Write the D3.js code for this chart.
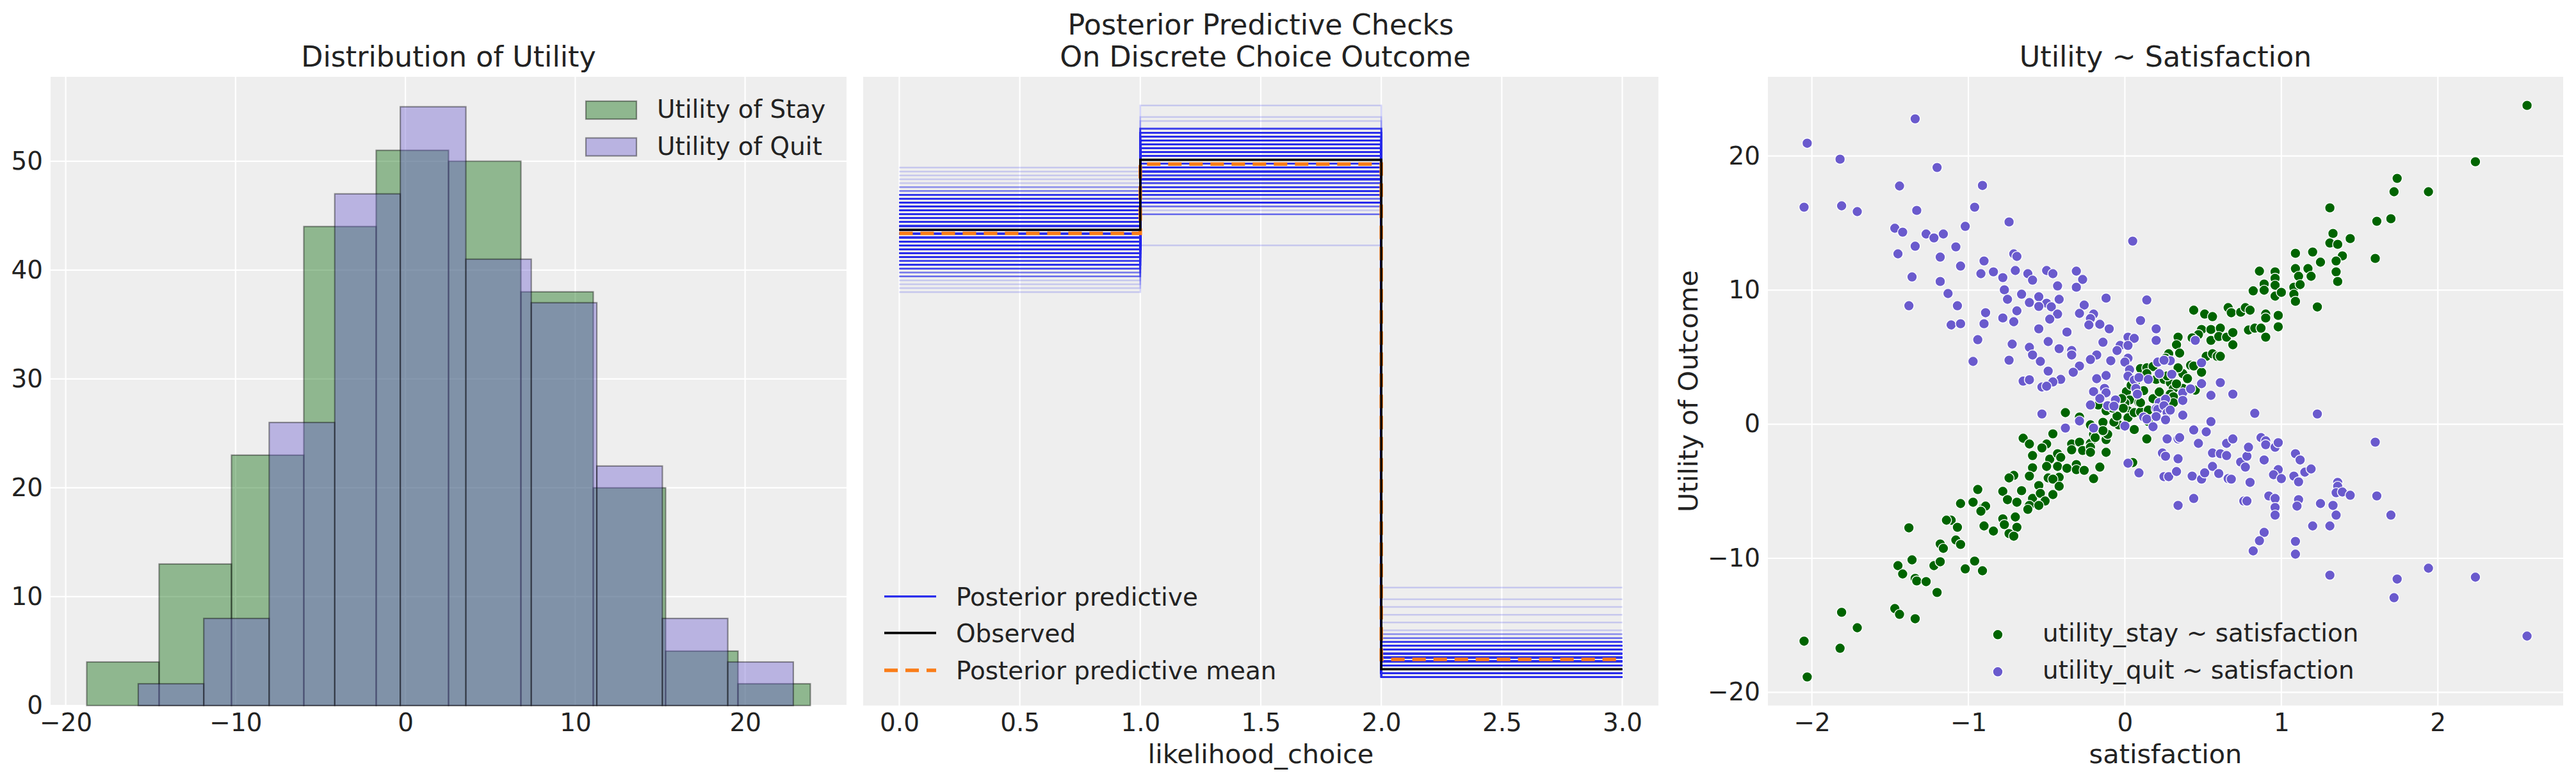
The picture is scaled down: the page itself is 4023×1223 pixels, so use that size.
<!DOCTYPE html>
<html>
<head>
<meta charset="utf-8">
<script src="https://cdn.jsdelivr.net/npm/d3@7"></script>
<style>
  body { margin: 0; background: #fff; }
  text { font-family: "DejaVu Sans", sans-serif; fill: #222; }
</style>
</head>
<body>
<svg id="fig" width="4023" height="1223"></svg>
<script>
// ---------------- data: panel 1 (histograms) ----------------
const stayEdges = [-18.76, -14.50, -10.24, -5.98, -1.72, 2.54, 6.80, 11.06, 15.32, 19.58, 23.84];
const stayCounts = [4, 13, 23, 44, 51, 50, 38, 20, 5, 2];
const quitEdges = [-15.73, -11.87, -8.02, -4.16, -0.30, 3.56, 7.41, 11.27, 15.13, 18.98, 22.84];
const quitCounts = [2, 8, 26, 47, 55, 41, 37, 22, 8, 4];
const histXTicks = [-20, -10, 0, 10, 20];
const histYTicks = [0, 10, 20, 30, 40, 50];

// ---------------- data: panel 2 (ppc, counts per choice out of 250) ----------------
const choiceEdges = [0, 1, 2, 3];
const observedCounts = [115, 133, 2];
const ppcMeanCounts = [114.1, 131.9, 4.5];
// [count choice 0, count choice 1, count choice 2, number of draws giving that histogram]
const ppcSamples = [
  [99,143,8,1],[100,147,3,1],[101,140,9,1],[102,144,4,1],[103,137,10,2],[103,141,6,3],[104,123,23,1],[104,140,6,3],
  [105,141,4,8],[105,125,20,1],[106,136,8,8],[106,137,7,8],[106,139,5,8],[107,138,5,8],[107,125,18,1],[107,127,16,1],
  [108,135,7,8],[108,138,4,8],[108,140,2,8],[109,136,5,8],[109,138,3,8],[109,129,12,1],[109,140,1,8],[110,138,2,8],
  [110,134,6,8],[110,136,4,8],[110,139,1,8],[111,136,3,8],[111,129,10,3],[111,139,0,8],[111,137,2,8],[112,133,5,8],
  [112,137,1,8],[112,130,8,8],[112,135,3,8],[112,136,2,8],[113,133,4,8],[113,137,0,8],[113,136,1,8],[113,131,6,8],
  [113,135,2,8],[114,133,3,8],[114,129,7,8],[114,135,1,8],[114,132,4,8],[114,136,0,8],[114,134,2,8],[115,130,5,8],
  [115,132,3,8],[115,126,9,8],[115,134,1,8],[115,133,2,8],[116,130,4,8],[116,134,0,8],[116,128,6,8],[116,133,1,8],
  [116,131,3,8],[117,131,2,8],[117,128,5,8],[117,122,11,3],[117,133,0,8],[118,131,1,8],[118,128,4,8],[118,130,2,8],
  [118,124,8,8],[119,128,3,8],[119,131,0,8],[119,125,6,8],[119,130,1,8],[120,128,2,8],[120,125,5,8],[120,127,3,8],
  [121,125,4,8],[121,128,1,8],[121,122,7,8],[122,126,2,8],[122,128,0,8],[122,119,9,4],[123,124,3,8],[123,122,5,8],
  [124,125,1,8],[124,122,4,8],[125,111,14,1],[125,123,2,3],[126,121,3,3],[127,123,0,1],[128,121,1,1],[129,121,0,1],
  [130,120,0,1],[131,119,0,1]
];
const ppcXTicks = [0, 0.5, 1, 1.5, 2, 2.5, 3];

// ---------------- data: panel 3 (satisfaction, utility) ----------------
const stayPoints = [
  [1.09,12.74],[0.86,11.41],[0.96,11.36],[0.96,10.88],[0.89,10.45],[0.96,10.36],[0.82,9.94],[0.89,9.99],
  [0.96,9.55],[1.00,9.83],[1.09,11.60],[1.11,11.03],[1.08,10.21],[1.08,9.69],[1.09,9.16],[1.12,10.41],
  [0.44,8.50],[0.51,8.21],[0.56,8.02],[0.66,8.69],[0.68,8.31],[0.74,8.35],[0.77,8.69],[0.80,8.50],
  [0.90,8.21],[0.90,7.92],[0.98,8.11],[0.98,7.26],[0.79,7.02],[0.83,7.16],[0.87,7.16],[0.90,6.49],
  [0.49,7.06],[0.55,7.06],[0.61,7.16],[0.47,6.68],[0.43,6.44],[0.55,6.25],[0.60,6.54],[0.65,6.49],
  [0.69,6.83],[0.69,5.92],[0.34,6.49],[0.33,5.92],[0.35,5.30],[0.28,5.25],[0.52,5.06],[0.56,5.25],
  [0.59,5.06],[0.61,5.06],[0.42,4.39],[0.44,4.34],[0.49,3.87],[0.37,3.77],[0.34,4.20],[0.26,4.92],
  [0.10,4.15],[0.14,4.20],[0.18,4.30],[0.14,3.77],[0.20,3.34],[0.25,3.34],[0.29,3.10],
  [2.57,23.77],[2.24,19.57],[1.74,18.33],[1.72,17.33],[1.94,17.33],[1.31,16.13],[1.61,15.13],[1.70,15.32],
  [1.33,14.22],[1.44,13.84],[1.31,13.51],[1.36,13.41],[1.20,12.84],[1.39,12.55],[1.25,12.08],[1.35,12.17],
  [1.60,12.36],[1.17,11.60],[1.19,11.03],[1.35,11.36],[1.36,10.64],[1.23,8.74],
  [-0.65,-1.05],[-0.61,-1.48],[-0.59,-2.34],[-0.59,-3.25],[-0.61,-3.87],[-0.71,-3.82],[-0.74,-4.01],[-0.94,-4.87],
  [-0.78,-5.01],[-0.66,-4.96],[-0.75,-5.63],[-0.69,-5.82],[-0.59,-5.54],[-0.61,-6.06],[-0.62,-6.35],[-1.05,-5.92],
  [-0.97,-5.82],[-0.90,-6.16],[-0.89,-6.11],[-0.92,-6.49],[-1.11,-7.16],[-1.14,-7.16],[-1.07,-7.69],[-0.90,-7.59],
  [-0.84,-7.97],[-0.78,-7.06],[-0.70,-6.92],[-0.77,-7.49],[-0.69,-7.69],[-0.74,-8.16],[-0.71,-8.35],[-1.38,-7.73],
  [-1.18,-8.93],[-1.16,-9.26],[-1.08,-8.64],[-1.05,-8.97],[-1.36,-10.12],[-1.45,-10.55],[-1.42,-11.17],[-1.34,-11.50],
  [-1.33,-11.69],[-1.27,-11.74],[-1.22,-10.55],[-1.18,-10.26],[-1.20,-12.55],[-1.02,-10.79],[-0.96,-10.21],[-0.91,-10.93],
  [-1.47,-13.75],[-1.44,-14.18],[-1.34,-14.51],[-1.81,-14.03],[-1.71,-15.18],[-2.05,-16.18],[-1.82,-16.71],[-2.03,-18.85],
  [-0.38,0.86],[-0.46,-0.72],[-0.50,-1.48],[-0.53,-1.77],[-0.48,-2.61],[-0.43,-2.20],[-0.41,-2.48],[-0.50,-3.15],
  [-0.43,-3.15],[-0.37,-3.29],[-0.31,-3.01],[-0.31,-3.39],[-0.26,-3.44],[-0.16,-3.20],[-0.20,-4.06],[-0.49,-4.01],
  [-0.42,-3.96],[-0.46,-4.10],[-0.55,-4.58],[-0.42,-4.63],[-0.54,-5.16],[-0.46,-5.25],[-0.51,-5.73],[-0.55,-6.06],
  [-0.34,-1.48],[-0.34,-1.91],[-0.29,-1.34],[-0.27,-1.96],[-0.22,-1.43],[-0.22,-1.72],[-0.22,-2.10],[-0.12,-2.10],
  [-0.20,-0.76],[-0.19,-1.00],[-0.12,-1.15],[-0.11,-0.76],[-0.14,0.14],[-0.14,-0.48],[-0.22,-0.05],[-0.29,0.53],
  [-0.17,1.43],[-0.12,1.00],[-0.05,0.00],[-0.04,-0.05],[0.14,-1.10],[0.05,-2.86],[0.01,2.43],[0.03,1.81],
  [0.00,1.58],[0.09,1.62],[0.02,1.00],[0.02,0.48],[0.06,0.86],[0.10,0.91],[0.15,1.05],[0.31,2.63],
  [0.29,2.24],[0.31,2.05],[0.37,2.67],[0.45,2.53],[-0.02,1.91],[-0.01,1.19],[-0.07,0.16],
  [-0.05,0.60],[0.04,2.90],[0.07,3.20],[0.12,2.50],[0.18,1.90],[0.22,2.40],[0.27,3.60],[0.33,3.00],
  [0.10,1.60],[-0.08,1.20],[0.15,0.20],[0.06,-0.40],[0.26,1.40],[0.31,1.60],[0.40,3.40]
];
const quitPoints = [
  [-1.34,22.77],[-2.03,20.95],[-1.82,19.76],[-1.20,19.14],[-1.44,17.76],[-0.91,17.80],[-2.05,16.18],[-1.81,16.28],
  [-1.71,15.85],[-1.33,15.94],[-0.96,16.18],[-0.74,15.08],[-1.47,14.61],[-1.42,14.32],[-1.27,14.18],[-1.22,13.89],
  [-1.16,14.18],[-1.02,14.75],[-1.34,13.27],[-1.08,13.22],[-1.45,12.70],[-1.18,12.46],[-1.05,11.79],[-0.90,12.17],
  [-0.71,12.70],[-0.69,12.51],[-0.92,11.22],[-0.84,11.36],[-0.78,10.93],[-0.70,11.46],[-0.62,11.22],[-0.59,10.74],
  [-1.36,10.98],[-1.18,10.64],[-1.13,9.74],[-0.77,10.02],[-0.66,9.69],[-0.75,9.31],[-0.61,9.07],[-1.38,8.83],
  [-1.07,8.83],[-0.89,8.31],[-0.69,8.45],[-0.78,7.92],[-0.71,7.64],[-1.11,7.40],[-1.05,7.49],[-0.90,7.49],
  [-0.94,6.30],[-0.72,5.97],[-0.61,5.73],[-0.59,5.16],[-0.97,4.68],[-0.74,4.77],[-0.65,3.21],[-0.61,3.31],
  [0.05,13.65],[-0.50,11.46],[-0.46,11.22],[-0.31,11.41],[-0.27,10.79],[-0.43,10.31],[-0.31,10.21],[-0.55,9.50],
  [-0.42,9.31],[-0.12,9.40],[0.14,9.26],[-0.50,9.02],[-0.47,8.75],[-0.55,8.78],[-0.43,8.21],[-0.48,7.83],
  [-0.26,8.88],[-0.29,8.26],[-0.20,8.21],[-0.22,7.88],[-0.23,7.40],[-0.16,7.45],[-0.10,7.11],[0.10,7.73],
  [0.20,7.11],[0.20,6.25],[-0.55,7.11],[-0.37,6.87],[-0.49,6.16],[0.02,6.49],[0.06,6.40],[-0.14,6.11],
  [-0.42,5.63],[-0.34,5.49],[-0.34,5.16],[-0.03,5.87],[0.02,5.87],[-0.05,5.49],[-0.18,5.16],[-0.22,4.82],
  [-0.09,4.73],[0.02,4.92],[0.00,4.63],[-0.54,4.68],[-0.29,4.34],[-0.49,3.96],[-0.33,3.87],[0.03,4.06],
  [-0.18,3.39],[-0.12,3.63],[-0.41,3.34],[0.02,3.58],[0.06,3.29],[0.09,3.48],[0.15,3.34],[0.21,4.63],
  [0.29,4.73],[0.22,3.77],[0.30,3.72],[0.45,6.25],[0.49,4.58],[0.49,3.02],[0.61,3.10],[-0.46,3.15],[0.25,4.77],
  [-0.53,2.77],[-0.50,2.83],[-0.20,2.43],[-0.13,2.67],[-0.12,2.34],[-0.16,1.91],[-0.22,1.43],[-0.11,1.38],
  [-0.06,1.81],[-0.07,1.34],[-0.53,0.76],[-0.38,-0.29],[-0.29,0.24],[-0.20,-0.29],[0.00,-0.14],[0.07,2.67],
  [0.08,2.24],[0.12,0.53],[0.14,0.38],[0.18,-0.19],[0.22,1.62],[0.26,1.86],[0.20,1.15],[0.21,1.10],
  [0.25,1.38],[0.27,0.86],[0.29,1.05],[0.20,0.57],[0.26,0.33],[0.37,2.34],[0.37,1.77],[0.37,0.67],
  [0.42,2.63],[0.55,2.15],[0.69,2.24],[0.83,0.81],[0.55,0.19],[0.44,-0.43],[0.52,-0.57],[0.27,-1.10],
  [0.34,-1.10],[0.35,-1.00],[0.47,-1.43],[0.24,-2.15],[0.26,-2.39],[0.34,-2.58],[0.02,-2.91],[0.09,-3.63],
  [0.25,-3.91],[0.28,-3.91],[0.33,-3.53],[0.43,-3.87],[0.49,-4.10],[0.51,-3.63],[0.56,-2.15],[0.61,-2.20],
  [0.65,-2.34],[0.65,-1.43],[0.69,-1.10],[0.56,-3.15],[0.60,-3.68],[0.66,-4.06],[0.68,-4.10],[0.74,-2.82],
  [0.77,-3.20],[0.78,-2.39],[0.79,-1.72],[0.80,-4.34],[0.87,-1.00],[0.90,-1.24],[0.90,-1.53],[0.96,-1.72],
  [0.98,-1.38],[0.89,-2.67],[0.98,-3.39],[0.95,-3.77],[1.00,-4.06],[1.09,-2.20],[1.12,-2.67],[1.08,-3.87],
  [1.11,-4.30],[1.15,-3.58],[0.34,-6.06],[0.44,-5.54],[0.76,-5.73],[0.78,-5.73],[0.92,-5.35],[0.96,-5.54],
  [0.96,-6.21],[0.96,-6.78],[1.11,-5.63],[1.10,-6.11],[0.89,-8.07],[0.86,-8.69],[0.82,-9.45],[1.09,-8.74],[1.09,-9.69],
  [1.23,0.76],[1.60,-1.34],[1.19,-3.34],[1.36,-4.34],[1.36,-4.63],[1.35,-5.11],[1.39,-5.06],[1.44,-5.30],
  [1.61,-5.35],[1.25,-5.92],[1.33,-6.06],[1.35,-6.78],[1.70,-6.78],[1.20,-7.59],[1.31,-7.59],[1.31,-11.26],
  [1.74,-11.55],[1.72,-12.94],[1.94,-10.74],[2.24,-11.41],[2.57,-15.80]
];
const scatXTicks = [-2, -1, 0, 1, 2];
const scatYTicks = [-20, -10, 0, 10, 20];

// ---------------- drawing ----------------
const svg = d3.select("#fig");
const TICK = 38.9, TITLE = 44.4, LABEL = 41.5;
const BG = "#eeeeee";
const STAY = "#006400", QUIT = "#6a5acd";
const C_BLUE = "#2a2eec", C_ORANGE = "#fa7c17";
const DOT_R = 7.9, DOT_EDGE = 1.4;

function pad(lo, hi) {
  const m = (hi - lo) * 0.05;
  return [lo - m, hi + m];
}

function axesBg(b) {
  const g = svg.append("g");
  g.append("rect").attr("x", b.l).attr("y", b.t)
    .attr("width", b.r - b.l).attr("height", b.b - b.t).attr("fill", BG);
  return g;
}

function vgrid(g, x, ticks, b) {
  g.selectAll(null).data(ticks).enter().append("line")
    .attr("x1", d => x(d)).attr("x2", d => x(d)).attr("y1", b.t).attr("y2", b.b)
    .attr("stroke", "#fff").attr("stroke-width", 2.2);
}
function hgrid(g, y, ticks, b) {
  g.selectAll(null).data(ticks).enter().append("line")
    .attr("y1", d => y(d)).attr("y2", d => y(d)).attr("x1", b.l).attr("x2", b.r)
    .attr("stroke", "#fff").attr("stroke-width", 2.2);
}

function styleAxis(a) {
  a.select(".domain").remove();
  a.selectAll("text").attr("font-size", TICK).attr("font-family", "DejaVu Sans, sans-serif").attr("fill", "#222");
}

function xAxis(g, x, ticks, b, fmt) {
  g.append("g").attr("transform", `translate(0,${b.b})`)
    .call(d3.axisBottom(x).tickValues(ticks).tickSize(0).tickPadding(12).tickFormat(fmt))
    .call(styleAxis);
}
function yAxis(g, y, ticks, b, fmt) {
  g.append("g").attr("transform", `translate(${b.l},0)`)
    .call(d3.axisLeft(y).tickValues(ticks).tickSize(0).tickPadding(12).tickFormat(fmt))
    .call(styleAxis);
}

function title(lines, b, baselines) {
  const cx = (b.l + b.r) / 2;
  lines.forEach((s, i) => {
    svg.append("text").attr("x", cx).attr("y", baselines[i])
      .attr("text-anchor", "middle").attr("font-size", TITLE)
      .style("white-space", "pre").text(s);
  });
}

// ---- panel 1: Distribution of Utility ----
const b1 = { l: 79, r: 1322, t: 120, b: 1102 };
const g1 = axesBg(b1);
const x1 = d3.scaleLinear()
  .domain(pad(Math.min(stayEdges[0], quitEdges[0]), Math.max(stayEdges[10], quitEdges[10])))
  .range([b1.l, b1.r]);
const y1 = d3.scaleLinear()
  .domain([0, d3.max(stayCounts.concat(quitCounts)) * 1.05])
  .range([b1.b, b1.t]);
vgrid(g1, x1, histXTicks, b1);
hgrid(g1, y1, histYTicks, b1);

function histBars(edges, counts, color) {
  g1.append("g").selectAll("rect").data(counts).enter().append("rect")
    .attr("x", (d, i) => x1(edges[i]))
    .attr("width", (d, i) => x1(edges[i + 1]) - x1(edges[i]))
    .attr("y", d => y1(d))
    .attr("height", d => y1(0) - y1(d))
    .attr("fill", color).attr("fill-opacity", 0.4)
    .attr("stroke", "#000").attr("stroke-opacity", 0.4).attr("stroke-width", 2.2);
}
histBars(stayEdges, stayCounts, STAY);
histBars(quitEdges, quitCounts, QUIT);
xAxis(g1, x1, histXTicks, b1, d3.format("d"));
yAxis(g1, y1, histYTicks, b1, d3.format("d"));
title(["Distribution of Utility"], b1, [103.5]);

// legend 1
[["Utility of Stay", STAY, 172], ["Utility of Quit", QUIT, 229.5]].forEach(([lab, col, cy]) => {
  g1.append("rect").attr("x", 915).attr("y", cy - 14).attr("width", 79).attr("height", 28)
    .attr("fill", col).attr("fill-opacity", 0.4)
    .attr("stroke", "#000").attr("stroke-opacity", 0.4).attr("stroke-width", 2.2);
  g1.append("text").attr("x", 1026).attr("y", cy + 12).attr("font-size", TICK).text(lab);
});

// ---- panel 2: Posterior predictive checks ----
const b2 = { l: 1348, r: 2590, t: 120, b: 1102 };
const g2 = axesBg(b2);
const x2 = d3.scaleLinear().domain(pad(choiceEdges[0], choiceEdges[3])).range([b2.l, b2.r]);
const allCounts = ppcSamples.map(s => s.slice(0, 3)).flat().concat(observedCounts);
const y2 = d3.scaleLinear().domain(pad(d3.min(allCounts), d3.max(allCounts))).range([b2.b, b2.t]);
vgrid(g2, x2, ppcXTicks, b2);

const stepLine = d3.line()
  .x(d => x2(d[0])).y(d => y2(d[1]))
  .curve(d3.curveStepAfter);
const stepPts = c => [[choiceEdges[0], c[0]], [choiceEdges[1], c[1]], [choiceEdges[2], c[2]], [choiceEdges[3], c[2]]];

// one path per posterior draw (draws sharing a histogram overlap)
const ppcDraws = ppcSamples.flatMap(s => d3.range(s[3]).map(() => s));
g2.append("g").selectAll("path").data(ppcDraws).enter().append("path")
  .attr("d", d => stepLine(stepPts(d)))
  .attr("fill", "none").attr("stroke", C_BLUE).attr("stroke-opacity", 0.2).attr("stroke-width", 2.5);
g2.append("path").attr("d", stepLine(stepPts(ppcMeanCounts)))
  .attr("fill", "none").attr("stroke", C_ORANGE).attr("stroke-width", 5.5)
  .attr("stroke-dasharray", "21,12");
g2.append("path").attr("d", stepLine(stepPts(observedCounts)))
  .attr("fill", "none").attr("stroke", "#000").attr("stroke-width", 3.6);

xAxis(g2, x2, ppcXTicks, b2, d3.format(".1f"));
title(["Posterior Predictive Checks", " On Discrete Choice Outcome"], b2, [54, 103.5]);
svg.append("text").attr("x", (b2.l + b2.r) / 2).attr("y", 1192)
  .attr("text-anchor", "middle").attr("font-size", LABEL).text("likelihood_choice");

// legend 2
[
  ["Posterior predictive", C_BLUE, 3.2, null, 931.7],
  ["Observed", "#000", 3.6, null, 988.6],
  ["Posterior predictive mean", C_ORANGE, 5.5, "21,12", 1047]
].forEach(([lab, col, w, dash, cy]) => {
  g2.append("line").attr("x1", 1381).attr("x2", 1462).attr("y1", cy).attr("y2", cy)
    .attr("stroke", col).attr("stroke-width", w).attr("stroke-dasharray", dash);
  g2.append("text").attr("x", 1493).attr("y", cy + 14).attr("font-size", TICK).text(lab);
});

// ---- panel 3: Utility ~ Satisfaction ----
const b3 = { l: 2761, r: 4003, t: 120, b: 1102 };
const g3 = axesBg(b3);
const allPts = stayPoints.concat(quitPoints);
const x3 = d3.scaleLinear().domain(pad(d3.min(allPts, d => d[0]), d3.max(allPts, d => d[0]))).range([b3.l, b3.r]);
const y3 = d3.scaleLinear().domain(pad(d3.min(allPts, d => d[1]), d3.max(allPts, d => d[1]))).range([b3.b, b3.t]);
vgrid(g3, x3, scatXTicks, b3);
hgrid(g3, y3, scatYTicks, b3);

function dots(pts, col) {
  g3.append("g").selectAll("circle").data(pts).enter().append("circle")
    .attr("cx", d => x3(d[0])).attr("cy", d => y3(d[1])).attr("r", DOT_R)
    .attr("fill", col).attr("stroke", "#fff").attr("stroke-width", DOT_EDGE);
}
dots(stayPoints, STAY);
dots(quitPoints, QUIT);

xAxis(g3, x3, scatXTicks, b3, d3.format("d"));
yAxis(g3, y3, scatYTicks, b3, d3.format("d"));
title(["Utility ~ Satisfaction"], b3, [103.5]);
svg.append("text").attr("x", (b3.l + b3.r) / 2).attr("y", 1192)
  .attr("text-anchor", "middle").attr("font-size", LABEL).text("satisfaction");
svg.append("text").attr("transform", `translate(2651,${(b3.t + b3.b) / 2}) rotate(-90)`)
  .attr("text-anchor", "middle").attr("font-size", LABEL).text("Utility of Outcome");

// legend 3
[["utility_stay ~ satisfaction", STAY, 991.3], ["utility_quit ~ satisfaction", QUIT, 1049.3]].forEach(([lab, col, cy]) => {
  g3.append("circle").attr("cx", 3120).attr("cy", cy).attr("r", DOT_R)
    .attr("fill", col).attr("stroke", "#fff").attr("stroke-width", DOT_EDGE);
  g3.append("text").attr("x", 3190).attr("y", cy + 10.5).attr("font-size", TICK).text(lab);
});
</script>
</body>
</html>
